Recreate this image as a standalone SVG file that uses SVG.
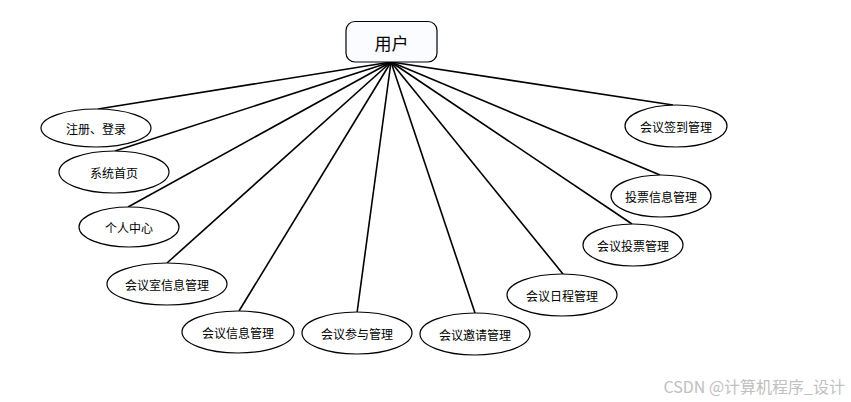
<svg xmlns="http://www.w3.org/2000/svg" width="851" height="402" viewBox="0 0 851 402">
<style>
.n{fill:#fff;stroke:#000;stroke-width:1.2}
.t{font-family:"Noto Sans CJK SC","Microsoft YaHei",sans-serif;font-size:12px;fill:#000;text-anchor:middle;dominant-baseline:central}
.c line{stroke:#000;stroke-width:1.6}
</style>
<rect width="851" height="402" fill="#fff"/>
<g class="c" id="connectors">
<line x1="391" y1="62" x2="98" y2="109"/>
<line x1="391" y1="62" x2="115" y2="151"/>
<line x1="391" y1="62" x2="128" y2="207"/>
<line x1="391" y1="62" x2="167" y2="263"/>
<line x1="391" y1="62" x2="239" y2="311"/>
<line x1="391" y1="62" x2="357" y2="313"/>
<line x1="391" y1="62" x2="475" y2="313"/>
<line x1="391" y1="62" x2="563" y2="274"/>
<line x1="391" y1="62" x2="632" y2="224"/>
<line x1="391" y1="62" x2="660" y2="175"/>
<line x1="391" y1="62" x2="673" y2="105"/>
</g>
<g id="user">
<rect x="346" y="21.5" width="91" height="40.5" rx="9" fill="#fbfcff" stroke="#000" stroke-width="1.2"/>
<text class="t" x="391.5" y="42" style="font-size:17px">用户</text>
</g>
<g id="n1"><ellipse class="n" cx="96" cy="128" rx="55" ry="19"/><text class="t" x="96" y="128">注册、登录</text></g>
<g id="n2"><ellipse class="n" cx="114" cy="172" rx="55" ry="21"/><text class="t" x="114" y="172">系统首页</text></g>
<g id="n3"><ellipse class="n" cx="129" cy="227" rx="50" ry="20"/><text class="t" x="129" y="227">个人中心</text></g>
<g id="n4"><ellipse class="n" cx="167" cy="284" rx="60" ry="21"/><text class="t" x="167" y="284">会议室信息管理</text></g>
<g id="n5"><ellipse class="n" cx="238" cy="332" rx="56" ry="21"/><text class="t" x="238" y="332">会议信息管理</text></g>
<g id="n6"><ellipse class="n" cx="357" cy="333" rx="55" ry="21"/><text class="t" x="357" y="333">会议参与管理</text></g>
<g id="n7"><ellipse class="n" cx="475" cy="334" rx="55" ry="21"/><text class="t" x="475" y="334">会议邀请管理</text></g>
<g id="n8"><ellipse class="n" cx="562" cy="295" rx="55" ry="21"/><text class="t" x="562" y="295">会议日程管理</text></g>
<g id="n9"><ellipse class="n" cx="633" cy="245" rx="50" ry="21"/><text class="t" x="633" y="245">会议投票管理</text></g>
<g id="n10"><ellipse class="n" cx="661" cy="196" rx="50" ry="21"/><text class="t" x="661" y="196">投票信息管理</text></g>
<g id="n11"><ellipse class="n" cx="676" cy="126" rx="51" ry="21"/><text class="t" x="676" y="126">会议签到管理</text></g>
<text x="845" y="386" style="font-family:'Noto Sans CJK SC',sans-serif;font-size:16px;fill:#c0c0c0;text-anchor:end;dominant-baseline:central">CSDN @计算机程序_设计</text>
</svg>
